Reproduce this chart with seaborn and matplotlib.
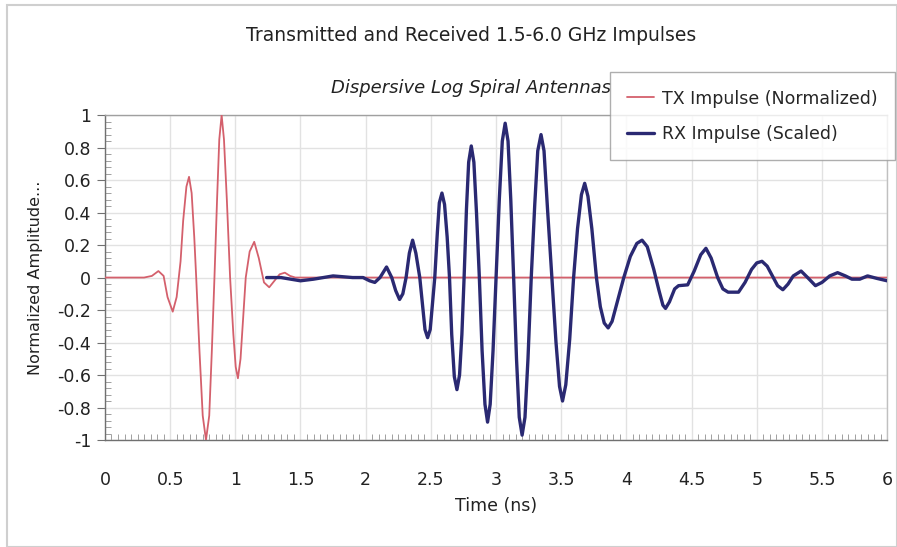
import numpy as np
import pandas as pd
import matplotlib
matplotlib.use("Agg")
import matplotlib.pyplot as plt
from matplotlib.patches import Rectangle
from matplotlib.ticker import MultipleLocator
import seaborn as sns

# ---- data ----
tx_time = [0.0, 0.30, 0.36, 0.41, 0.45, 0.48, 0.52, 0.55, 0.58, 0.60, 0.625, 0.645,
           0.665, 0.685, 0.70, 0.725, 0.75, 0.775, 0.80, 0.82, 0.84, 0.86, 0.877,
           0.895, 0.913, 0.935, 0.96, 0.985, 1.003, 1.02, 1.04, 1.06, 1.08, 1.11,
           1.145, 1.18, 1.22, 1.26, 1.30, 1.34, 1.38, 1.42, 1.46, 6.0]
tx_amp = [0.0, 0.0, 0.01, 0.04, 0.01, -0.12, -0.21, -0.12, 0.10, 0.35, 0.56, 0.62,
          0.52, 0.25, 0.0, -0.45, -0.85, -1.0, -0.85, -0.45, 0.0, 0.48, 0.85,
          1.0, 0.85, 0.48, 0.0, -0.35, -0.55, -0.62, -0.50, -0.25, 0.0, 0.16,
          0.22, 0.12, -0.03, -0.06, -0.02, 0.02, 0.03, 0.01, 0.0, 0.0]

rx_time = [1.24, 1.35, 1.50, 1.60, 1.75, 1.90, 1.98, 2.03, 2.07, 2.11, 2.16, 2.20,
           2.23, 2.26, 2.285, 2.31, 2.335, 2.36, 2.385, 2.415, 2.44, 2.455, 2.475,
           2.495, 2.51, 2.53, 2.55, 2.565, 2.585, 2.605, 2.625, 2.643, 2.66, 2.68,
           2.70, 2.72, 2.738, 2.755, 2.773, 2.79, 2.81, 2.83, 2.85, 2.872, 2.893,
           2.915, 2.935, 2.955, 2.977, 3.0, 3.025, 3.048, 3.07, 3.092, 3.113, 3.135,
           3.157, 3.178, 3.20, 3.222, 3.245, 3.27, 3.297, 3.32, 3.345, 3.368, 3.395,
           3.428, 3.46, 3.487, 3.51, 3.535, 3.565, 3.595, 3.625, 3.655, 3.68, 3.705,
           3.735, 3.77, 3.80, 3.83, 3.86, 3.89, 3.93, 3.98, 4.03, 4.08, 4.12, 4.16,
           4.21, 4.25, 4.28, 4.30, 4.33, 4.37, 4.40, 4.47, 4.52, 4.57, 4.61, 4.65,
           4.70, 4.74, 4.78, 4.86, 4.91, 4.96, 5.00, 5.04, 5.08, 5.12, 5.16, 5.20,
           5.24, 5.28, 5.34, 5.39, 5.45, 5.50, 5.56, 5.62, 5.68, 5.73, 5.79, 5.85,
           5.92, 6.0]
rx_amp = [0.0, 0.0, -0.02, -0.01, 0.01, 0.0, 0.0, -0.02, -0.03, 0.0, 0.065, 0.0,
          -0.08, -0.135, -0.10, 0.0, 0.15, 0.23, 0.15, 0.0, -0.20, -0.32, -0.37,
          -0.32, -0.18, 0.0, 0.28, 0.46, 0.52, 0.45, 0.25, 0.0, -0.35, -0.61,
          -0.69, -0.60, -0.35, 0.0, 0.42, 0.71, 0.81, 0.71, 0.40, 0.0, -0.45,
          -0.78, -0.89, -0.78, -0.45, 0.0, 0.48, 0.84, 0.95, 0.84, 0.48, 0.0,
          -0.50, -0.86, -0.97, -0.86, -0.50, 0.0, 0.45, 0.78, 0.88, 0.78, 0.42,
          0.0, -0.40, -0.67, -0.76, -0.66, -0.38, 0.0, 0.30, 0.51, 0.58, 0.50,
          0.30, 0.0, -0.18, -0.28, -0.31, -0.27, -0.15, 0.0, 0.13, 0.21, 0.23, 0.19,
          0.05, -0.08, -0.17, -0.19, -0.15, -0.07, -0.05, -0.045, 0.04, 0.14, 0.18, 0.12,
          0.0, -0.07, -0.09, -0.09, -0.03, 0.05, 0.09, 0.10, 0.07, 0.01, -0.05, -0.075,
          -0.04, 0.01, 0.04, 0.0, -0.05, -0.03, 0.01, 0.03, 0.01, -0.01, -0.01, 0.01,
          -0.005, -0.02]

series_names = ["TX Impulse (Normalized)", "RX Impulse (Scaled)"]
x_ticks = [0, 0.5, 1, 1.5, 2, 2.5, 3, 3.5, 4, 4.5, 5, 5.5, 6]
x_tick_labels = ["0", "0.5", "1", "1.5", "2", "2.5", "3", "3.5", "4", "4.5", "5", "5.5", "6"]
y_ticks = [-1, -0.8, -0.6, -0.4, -0.2, 0, 0.2, 0.4, 0.6, 0.8, 1]
y_tick_labels = ["-1", "-0.8", "-0.6", "-0.4", "-0.2", "0", "0.2", "0.4", "0.6", "0.8", "1"]

tx_df = pd.DataFrame({"Time": tx_time, "Amplitude": tx_amp})
rx_df = pd.DataFrame({"Time": rx_time, "Amplitude": rx_amp})

sns.set_theme(style="white")
plt.rcParams["font.family"] = ["DejaVu Sans"]

fig = plt.figure(figsize=(8.97, 5.47), dpi=100)
ax = fig.add_axes([0.117, 0.1956, 0.872, 0.594])

tx_color = "#d4606c"
rx_color = "#2a2972"

sns.lineplot(data=tx_df, x="Time", y="Amplitude", ax=ax, color=tx_color,
             linewidth=1.3, label=series_names[0], sort=False, zorder=3)
sns.lineplot(data=rx_df, x="Time", y="Amplitude", ax=ax, color=rx_color,
             linewidth=2.4, label=series_names[1], sort=False, zorder=4)

ax.set_xlim(0, 6)
ax.set_ylim(-1, 1)
ax.set_xticks(x_ticks)
ax.set_xticklabels(x_tick_labels)
ax.set_yticks(y_ticks)
ax.set_yticklabels(y_tick_labels)
ax.xaxis.set_minor_locator(MultipleLocator(0.05))
ax.yaxis.set_minor_locator(MultipleLocator(0.04))

ax.grid(True, which="major", color="#e2e2e2", linewidth=1.0)
ax.set_axisbelow(True)
for side in ["left", "bottom"]:
    ax.spines[side].set_color("#707070")
    ax.spines[side].set_linewidth(1.0)
ax.spines["top"].set_color("#a0a0a0")
ax.spines["top"].set_linewidth(1.0)
ax.spines["right"].set_color("#c0c0c0")
ax.spines["right"].set_linewidth(1.0)

ax.tick_params(axis="x", which="major", direction="out", length=10, width=0.8,
               color="#707070", labelsize=12.5, pad=12, labelcolor="#222222")
ax.tick_params(axis="x", which="minor", direction="in", length=4, width=0.6,
               color="#909090", bottom=True)
ax.tick_params(axis="y", which="major", direction="out", length=6, width=0.8,
               color="#707070", labelsize=12.5, pad=4, labelcolor="#222222", left=True)
ax.tick_params(axis="y", which="minor", direction="in", length=4, width=0.6,
               color="#909090", left=True)

ax.set_xlabel("Time (ns)", fontsize=12.5, color="#222222", labelpad=6)
ax.set_ylabel("Normalized Amplitude...", fontsize=11.5, color="#222222", labelpad=10)

fig.text(0.525, 0.935, "Transmitted and Received 1.5-6.0 GHz Impulses",
         ha="center", va="center", fontsize=13.5, color="#222222")
fig.text(0.525, 0.84, "Dispersive Log Spiral Antennas", ha="center", va="center",
         fontsize=13, style="italic", color="#222222")

ax.legend_.remove()
handles, labels = ax.get_legend_handles_labels()
leg = fig.legend(handles, labels, loc="upper right", bbox_to_anchor=(0.998, 0.868),
                 bbox_transform=fig.transFigure, frameon=True, fancybox=False,
                 fontsize=12.5, handlelength=1.5, handletextpad=0.5,
                 borderpad=1.0, labelspacing=1.0, borderaxespad=0)
leg.get_frame().set_edgecolor("#9a9a9a")
leg.get_frame().set_linewidth(1.0)
leg.set_zorder(10)

fig.patches.append(Rectangle((0.008, 0.0), 0.992, 0.99, transform=fig.transFigure,
                             fill=False, edgecolor="#cfcfcf", linewidth=1.5))

fig.savefig("out.png", dpi=100)
